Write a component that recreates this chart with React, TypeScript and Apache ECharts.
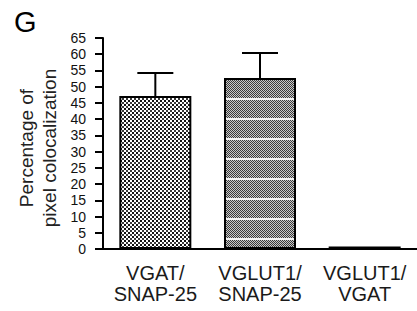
import React, { useEffect, useRef } from "react";
import * as echarts from "echarts";

const categories = ["VGAT/\nSNAP-25", "VGLUT1/\nSNAP-25", "VGLUT1/\nVGAT"];
const means = [47.1, 52.7, 0.8];
const errors = [7.1, 7.7, 0];
const yMin = 0;
const yMax = 65;
const yInterval = 5;

const FONT = "'Liberation Sans', Arial, Helvetica, sans-serif";

function makeTile(w: number, h: number, draw: (ctx: CanvasRenderingContext2D) => void) {
  const c = document.createElement("canvas");
  c.width = w;
  c.height = h;
  const ctx = c.getContext("2d")!;
  draw(ctx);
  return { image: c.toDataURL(), repeat: "repeat", imageWidth: w, imageHeight: h } as any;
}

export default function App() {
  const ref = useRef<HTMLDivElement>(null);
  useEffect(() => {
    document.body.style.margin = "0";
    const chart = echarts.init(ref.current!, null, { renderer: "svg" });

    const checker = makeTile(4, 4, (ctx) => {
      ctx.fillStyle = "#ffffff";
      ctx.fillRect(0, 0, 4, 4);
      ctx.fillStyle = "#111111";
      ctx.fillRect(0, 0, 2, 2);
      ctx.fillStyle = "#3a3a3a";
      ctx.fillRect(2, 2, 2, 2);
    });
    const fineDots = makeTile(2, 20, (ctx) => {
      ctx.fillStyle = "#f4f4f4";
      ctx.fillRect(0, 0, 2, 20);
      for (let y = 0; y < 18; y++) {
        for (let x = 0; x < 2; x++) {
          ctx.fillStyle = (x + y) % 2 === 0 ? "#3a3a3a" : "#c8c8c8";
          ctx.fillRect(x, y, 1, 1);
        }
      }
    });
    const fills = [checker, fineDots, "#111111"];

    chart.setOption({
      animation: false,
      grid: { left: 103, top: 38, width: 318, height: 211 },
      xAxis: {
        type: "category",
        data: categories,
        boundaryGap: true,
        axisLine: { lineStyle: { color: "#000", width: 2 } },
        axisTick: { show: false },
        axisLabel: {
          color: "#1a1a1a",
          fontSize: 20,
          fontFamily: FONT,
          lineHeight: 21,
          margin: 13,
          interval: 0,
        },
      },
      yAxis: {
        type: "value",
        min: yMin,
        max: yMax,
        interval: yInterval,
        splitLine: { show: false },
        axisLine: { show: true, lineStyle: { color: "#000", width: 2 } },
        axisTick: { show: true, length: 8, lineStyle: { color: "#000", width: 2 } },
        axisLabel: { color: "#111", fontSize: 14, fontFamily: FONT, margin: 17 },
      },
      series: [
        {
          type: "bar",
          barWidth: 72,
          data: means.map((v, i) => ({
            value: v,
            itemStyle: { color: fills[i], borderColor: "#000", borderWidth: 2 },
          })),
        },
        {
          type: "custom",
          coordinateSystem: "cartesian2d",
          z: 3,
          data: means.map((m, i) => [i, m, m + errors[i]]).filter((d, i) => errors[i] > 0),
          encode: { x: 0, y: [1, 2] },
          renderItem: (params: any, api: any) => {
            const i = api.value(0);
            const low = api.coord([i, api.value(1)]);
            const high = api.coord([i, api.value(2)]);
            const half = 18;
            const style = { stroke: "#000", lineWidth: 2 };
            return {
              type: "group",
              children: [
                { type: "line", shape: { x1: low[0], y1: low[1], x2: high[0], y2: high[1] }, style },
                { type: "line", shape: { x1: high[0] - half, y1: high[1], x2: high[0] + half, y2: high[1] }, style },
              ],
            };
          },
        },
      ],
      graphic: [
        {
          type: "text",
          x: 14,
          y: 22,
          style: {
            text: "G",
            fontSize: 29,
            fontFamily: FONT,
            fill: "#000",
            textVerticalAlign: "middle",
          },
        },
        {
          type: "text",
          x: 38,
          y: 148,
          rotation: Math.PI / 2,
          style: {
            text: "Percentage of\npixel colocalization",
            fontSize: 19,
            lineHeight: 23,
            fontFamily: FONT,
            fill: "#222",
            textAlign: "center",
            textVerticalAlign: "middle",
          },
        },
      ],
    });
    return () => chart.dispose();
  }, []);
  return <div ref={ref} style={{ width: 417, height: 311 }} />;
}
